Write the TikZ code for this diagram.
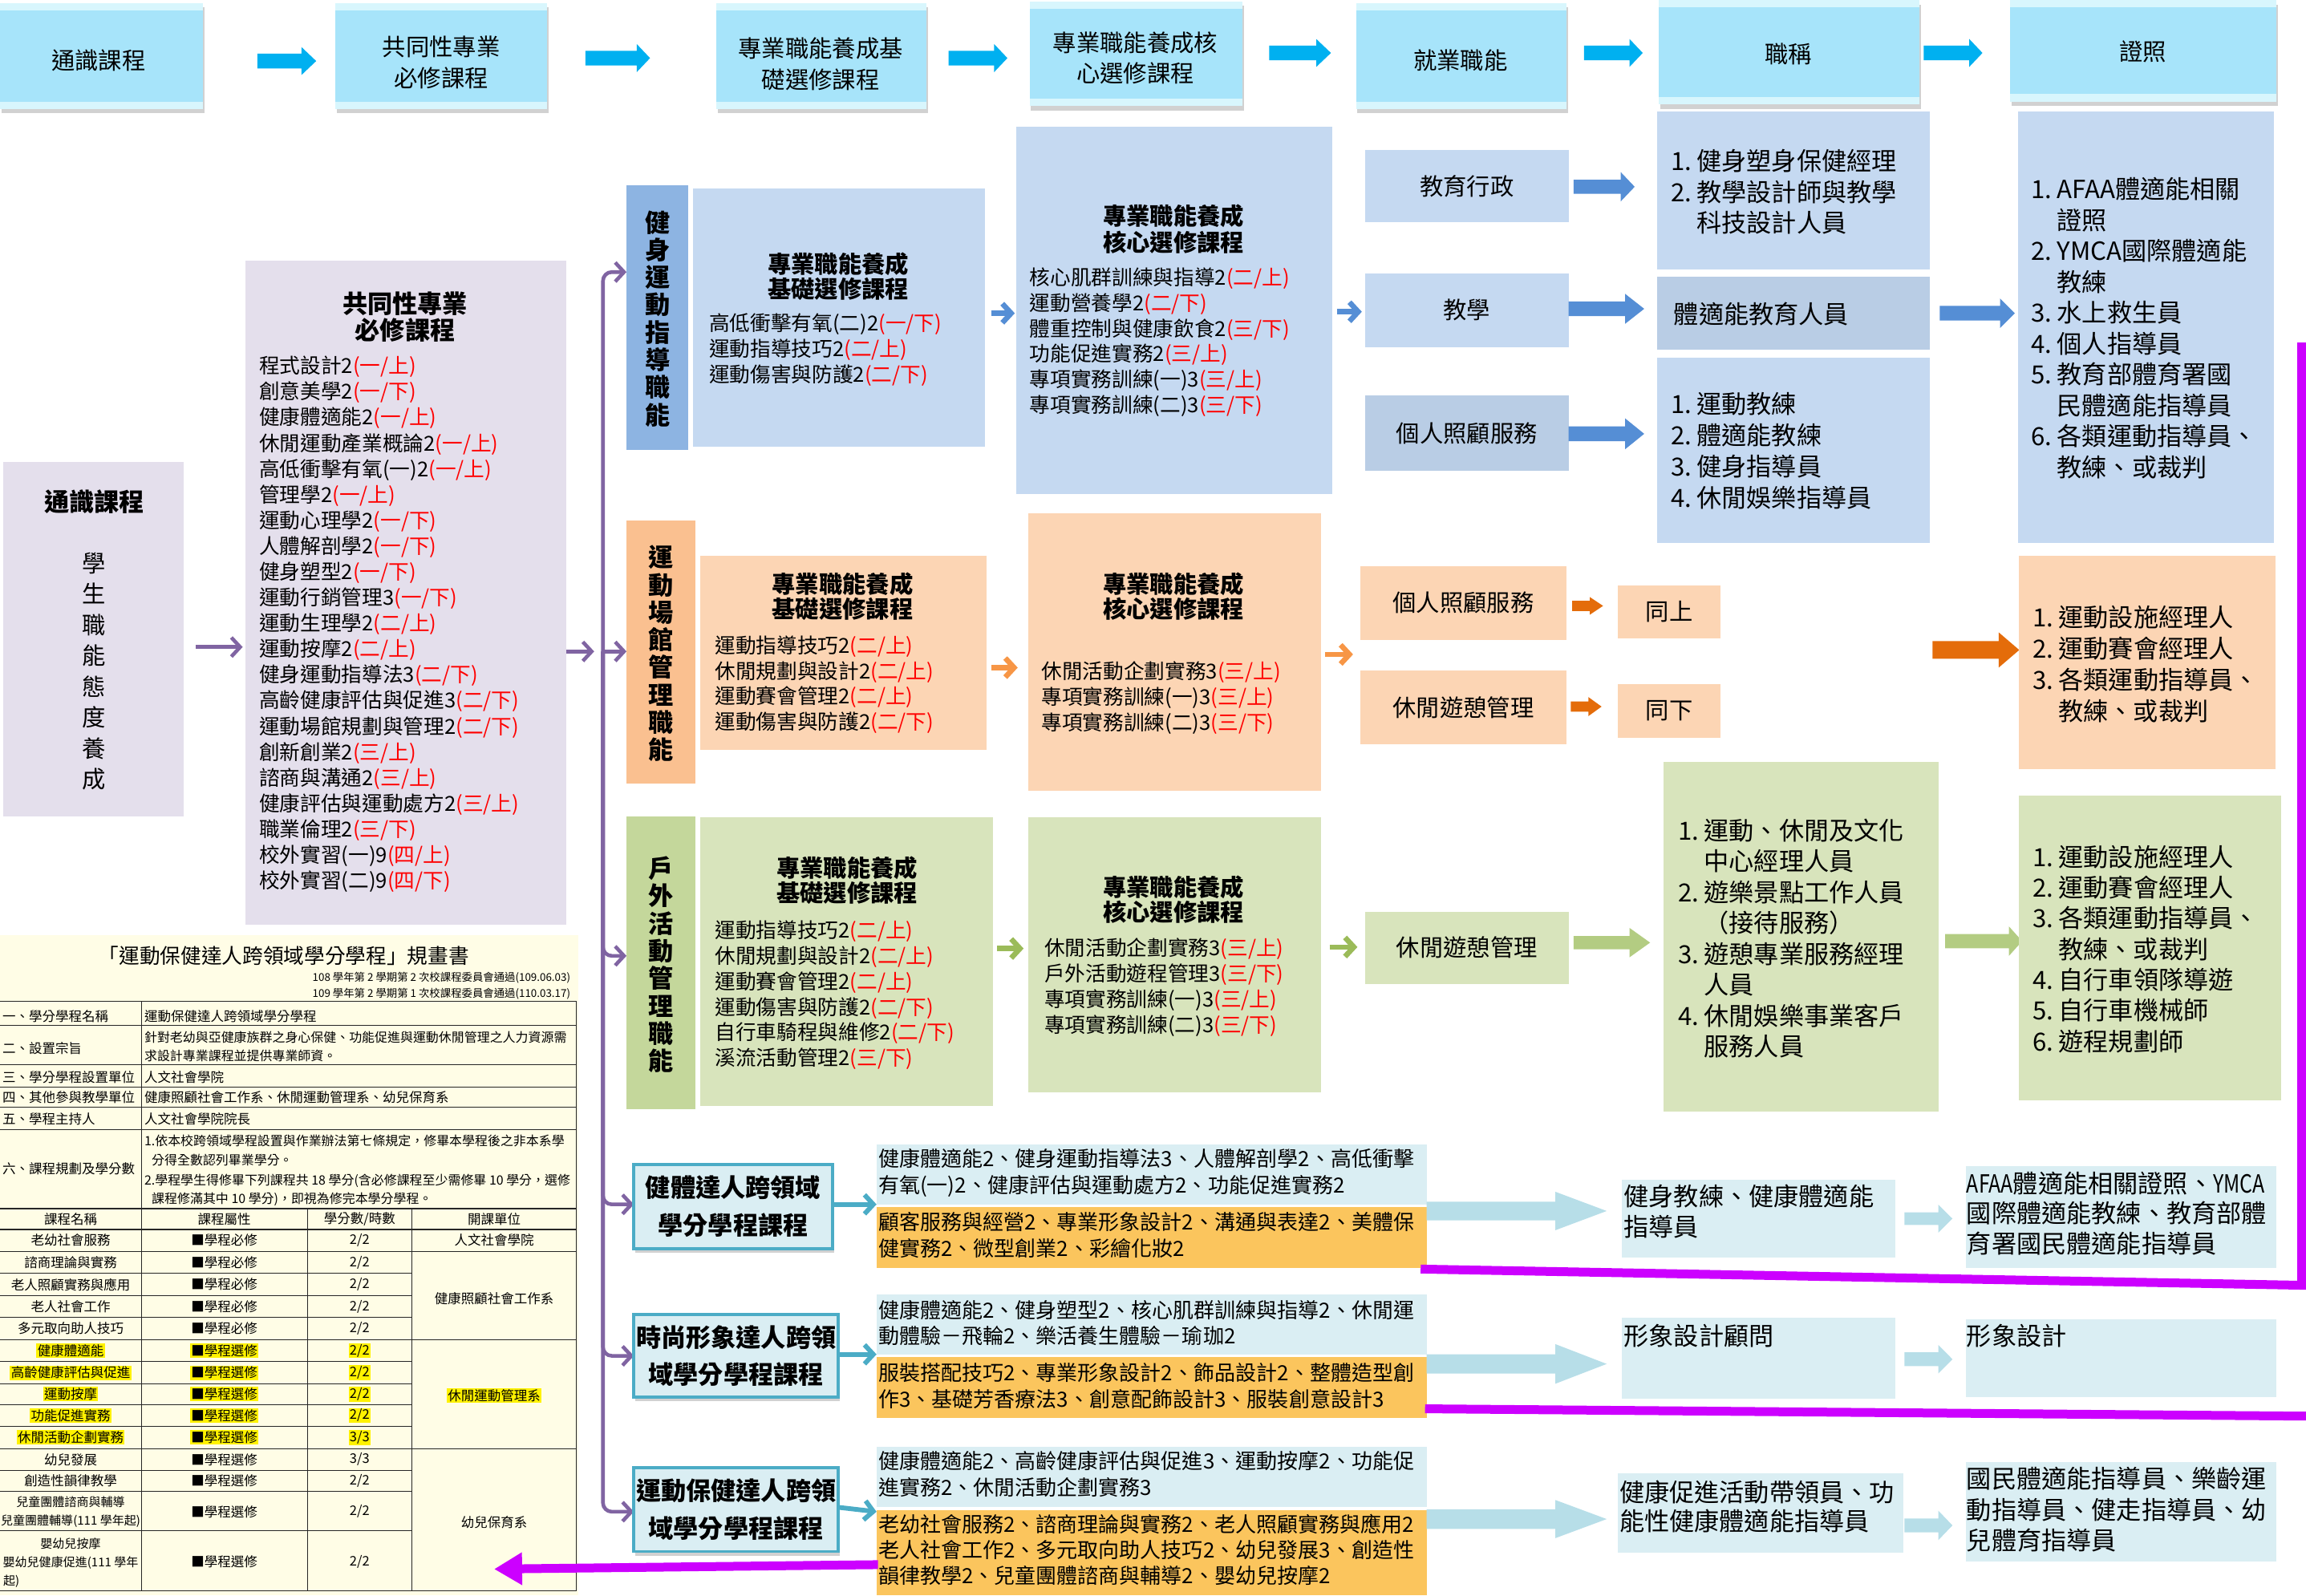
\documentclass[tikz,border=0pt]{standalone}
\usepackage{fontspec}
\usepackage{graphicx}
\setmainfont{Noto Sans CJK TC}
\usetikzlibrary{arrows.meta,shadows}
\definecolor{hdr}{HTML}{A7E4FA}
\definecolor{hdrband}{HTML}{D8F6FD}
\definecolor{lav}{HTML}{E4DFEC}
\definecolor{bdark}{HTML}{8DB4E2}
\definecolor{blight}{HTML}{C5D9F1}
\definecolor{bmid}{HTML}{B9CDE5}
\definecolor{odark}{HTML}{FAC090}
\definecolor{olight}{HTML}{FCD5B4}
\definecolor{gdark}{HTML}{C4D79B}
\definecolor{glight}{HTML}{D8E4BC}
\definecolor{aqua}{HTML}{DAEEF3}
\definecolor{gold}{HTML}{FBC55D}
\definecolor{cyanline}{HTML}{4BACC6}
\definecolor{paleblue}{HTML}{B7DEE8}
\definecolor{skyarr}{HTML}{00B0F0}
\definecolor{bluearr}{HTML}{558ED5}
\definecolor{orarr}{HTML}{E46C0A}
\definecolor{orsmall}{HTML}{F79646}
\definecolor{grarr}{HTML}{B3CC82}
\definecolor{grsmall}{HTML}{9BBB59}
\definecolor{purp}{HTML}{8064A2}
\definecolor{mag}{HTML}{CC00FF}
\definecolor{cream}{HTML}{FFFDE6}
\definecolor{cred}{HTML}{FF0000}
\newcommand\red[1]{\textcolor{cred}{#1}}
\newcommand\nar[1]{\scalebox{0.8}[1]{#1}}
\newcommand\ind{\hspace*{1.03em}}
\newcommand\nm[1]{#1.\hspace{0.2em}}
% box: name, x1, y1, x2, y2, style
\newcommand\bx[6]{\node[inner sep=0pt,outer sep=0pt,anchor=north west,minimum width={((#4)-(#2))*1pt},minimum height={((#5)-(#3))*1pt},#6] (#1) at (#2,#3) {};}
% text lines: x, y of first line centre, step, font size, options, list
\newcommand\tl[6]{\foreach \l [count=\i from 0] in {#6}{\node[anchor=base west,inner sep=0pt,font=\fontsize{#4}{#4}\selectfont,#5] at ({#1},{#2+\i*#3+0.36*#4}) {\l};}}
% block arrow: x tail, x tip, x head start, y centre, body half, head half, colour
\newcommand\barr[7]{\fill[#7] ({#1},{#4-#5}) -- ({#3},{#4-#5}) -- ({#3},{#4-#6}) -- ({#2},{#4}) -- ({#3},{#4+#6}) -- ({#3},{#4+#5}) -- ({#1},{#4+#5}) -- cycle;}
\begin{document}
\begin{tikzpicture}[x=1pt,y=-1pt,
  hbox/.style={fill=hdr,drop shadow={shadow xshift=1pt,shadow yshift=-3pt,opacity=.3,fill=black!60}},
  ctr/.style={inner sep=0pt,align=center},
  ht/.style={ctr,font=\fontsize{16}{21}\selectfont},
  tit/.style={ctr,font=\fontsize{16}{17}\selectfont\bfseries},
  vt/.style={ctr,font=\fontsize{17}{18.7}\selectfont\bfseries},
  jt/.style={ctr,font=\fontsize{16}{20}\selectfont},
  pt/.style={ctr,font=\fontsize{17}{25.5}\selectfont\bfseries},
  pa/.style={draw=purp,line width=2.5pt,-{Straight Barb[length=6pt,width=13pt]}},
  pab/.style={pa,rounded corners=6pt},
  chev/.style={draw=#1,line width=3.6pt,-{Straight Barb[length=6pt,width=13pt]}},
  cya/.style={draw=cyanline,line width=3.2pt,-{Straight Barb[length=6pt,width=13pt]}},
  magl/.style={draw=mag,line width=6pt},
  pbox/.style={fill=aqua,draw=cyanline,line width=2pt,drop shadow={shadow xshift=1pt,shadow yshift=-3pt,opacity=.3,fill=black!60}},
  tt/.style={inner sep=0pt,font=\fontsize{9}{10}\selectfont},
  ts/.style={inner sep=0pt,font=\fontsize{8.7}{10}\selectfont},
  tn/.style={inner sep=0pt,font=\fontsize{8.2}{10}\selectfont},
  hl/.style={fill=yellow,inner sep=0.7pt},
  tb/.style={draw=black!85,line width=0.8pt},
  tbt/.style={draw=black!85,line width=0.5pt},
]
\useasboundingbox (0,0) rectangle (1568,1085);

% ---------------- header row ----------------
\bx{h1}{0}{2}{138}{74}{hbox}
\bx{h2}{228}{2}{372}{74}{hbox}
\bx{h3}{487}{2}{630}{74}{hbox}
\bx{h4}{700}{1}{845}{72}{hbox}
\bx{h5}{922}{2}{1065}{74}{hbox}
\bx{h6}{1128}{0}{1305}{71}{hbox}
\bx{h7}{1367}{0}{1548}{69}{hbox}
\foreach \h in {h1,h2,h3,h4,h5,h6,h7}{
  \fill[hdrband] (\h.north west) rectangle ([yshift=-5pt]\h.north east);
  \fill[hdrband] ([yshift=5pt]\h.south west) rectangle (\h.south east);}
\node[ht] (ht1) at (67,41) {通識課程};
\node[ht] (ht2) at (300,42.5) {共同性專業\\必修課程};
\node[ht] (ht3) at (558,43.5) {專業職能養成基\\礎選修課程};
\node[ht] (ht4) at (772,39.5) {專業職能養成核\\心選修課程};
\node[ht] (ht5) at (993,41) {就業職能};
\node[ht] (ht6) at (1216,37) {職稱};
\node[ht] (ht7) at (1457,35) {證照};
\barr{175}{215}{205}{41.5}{5}{9.5}{skyarr}
\barr{398}{442}{433}{39.5}{5}{9.5}{skyarr}
\barr{645}{685}{676}{39.5}{5}{9.5}{skyarr}
\barr{863}{905}{895}{36}{5}{9.5}{skyarr}
\barr{1077}{1117}{1108}{36}{5}{9.5}{skyarr}
\barr{1308}{1348}{1339}{36}{5}{9.5}{skyarr}

% ---------------- left column ----------------
\bx{gen}{2}{314}{125}{555}{fill=lav}
\node[ctr,font=\fontsize{17}{20}\selectfont\bfseries] (gent) at (64,341) {通識課程};
\node[ctr,font=\fontsize{16}{21}\selectfont] (genv) at (64,456.5) {學\\生\\職\\能\\態\\度\\養\\成};
\bx{com}{167}{177}{385}{629}{fill=lav}
\node[tit,font=\fontsize{17}{17.5}\selectfont\bfseries] (comt) at (275.5,215.5) {共同性專業\\必修課程};
\tl{176}{249}{17.5}{14}{}{程式設計2\red{(一/上)},創意美學2\red{(一/下)},健康體適能2\red{(一/上)},休閒運動產業概論2\red{(一/上)},高低衝擊有氧(一)2\red{(一/上)},管理學2\red{(一/上)},運動心理學2\red{(一/下)},人體解剖學2\red{(一/下)},健身塑型2\red{(一/下)},運動行銷管理3\red{(一/下)},運動生理學2\red{(二/上)},運動按摩2\red{(二/上)},健身運動指導法3\red{(二/下)},高齡健康評估與促進3\red{(二/下)},運動場館規劃與管理2\red{(二/下)},創新創業2\red{(三/上)},諮商與溝通2\red{(三/上)},健康評估與運動處方2\red{(三/上)},職業倫理2\red{(三/下)},校外實習(一)9\red{(四/上)},校外實習(二)9\red{(四/下)}}

\coordinate (ga) at (133,440);
\coordinate (gb) at (165,440);
\draw[pa] (ga) -- (gb);
\coordinate (bk) at (410,443);
\draw[pa] (com.east |- bk) -- (404,443);
\coordinate (e1) at (426,185);
\coordinate (e3) at (426,650);
\coordinate (e4) at (431,819);
\coordinate (e5) at (431,922);
\coordinate (e6) at (431,1028);

% ---------------- track 1 ----------------
\bx{t1v}{426}{126}{468}{306}{fill=bdark}
\node[vt] (t1vt) at (447,216.7) {健\\身\\運\\動\\指\\導\\職\\能};
\bx{t1b}{471}{128}{670}{304}{fill=blight}
\node[tit] (t1bt) at (570,188) {專業職能養成\\基礎選修課程};
\tl{482}{220}{17.5}{14}{}{高低衝擊有氧(二)2\red{(一/下)},運動指導技巧2\red{(二/上)},運動傷害與防護2\red{(二/下)}}
\bx{t1c}{691}{86}{906}{336}{fill=blight}
\node[tit,font=\fontsize{16}{18}\selectfont\bfseries] (t1ct) at (798,156) {專業職能養成\\核心選修課程};
\tl{700}{189}{17.3}{14}{}{核心肌群訓練與指導2\red{(二/上)},運動營養學2\red{(二/下)},體重控制與健康飲食2\red{(三/下)},功能促進實務2\red{(三/上)},專項實務訓練(一)3\red{(三/上)},專項實務訓練(二)3\red{(三/下)}}
\draw[chev=bluearr] (674,213) -- (690,213);
\draw[chev=bluearr] (909,212) -- (926,212);
\bx{j1a}{928}{102}{1067}{151}{fill=blight}
\node[jt] at (j1a) {教育行政};
\bx{j1b}{928}{186}{1067}{236}{fill=blight}
\node[jt] at (j1b) {教學};
\bx{j1c}{928}{269}{1067}{320}{fill=bmid}
\node[jt] at (j1c) {個人照顧服務};
\barr{1070}{1111.5}{1102}{127}{4.8}{10}{bluearr}
\barr{1066.5}{1118}{1105}{210}{5}{10.2}{bluearr}
\barr{1066.5}{1118}{1105}{295}{5}{10.5}{bluearr}
\bx{n1a}{1127}{76}{1312}{183}{fill=blight}
\tl{1136}{110}{21}{17}{}{\nm{1}健身塑身保健經理,\nm{2}教學設計師與教學,\ind 科技設計人員}
\bx{n1b}{1127}{188}{1312}{238}{fill=bmid}
\tl{1138}{214}{21}{17}{}{體適能教育人員}
\bx{n1c}{1127}{243}{1312}{369}{fill=blight}
\tl{1136}{275}{21.3}{17}{}{\nm{1}運動教練,\nm{2}體適能教練,\nm{3}健身指導員,\nm{4}休閒娛樂指導員}
\barr{1319}{1370}{1360}{213}{5}{10}{bluearr}
\bx{c1}{1372}{76}{1546}{369}{fill=blight}
\tl{1381}{129}{21}{17}{}{\nm{1}AFAA體適能相關,\ind 證照,\nm{2}YMCA國際體適能,\ind 教練,\nm{3}水上救生員,\nm{4}個人指導員,\nm{5}教育部體育署國,\ind 民體適能指導員,\nm{6}各類運動指導員、,\ind 教練、或裁判}

% ---------------- track 2 ----------------
\bx{t2v}{426}{354}{473}{533}{fill=odark}
\node[vt] (t2vt) at (449.5,444.5) {運\\動\\場\\館\\管\\理\\職\\能};
\bx{t2b}{476}{378}{671}{510}{fill=olight}
\node[tit] (t2bt) at (573,405.5) {專業職能養成\\基礎選修課程};
\tl{486}{439}{17.4}{14}{}{運動指導技巧2\red{(二/上)},休閒規劃與設計2\red{(二/上)},運動賽會管理2\red{(二/上)},運動傷害與防護2\red{(二/下)}}
\bx{t2c}{699}{349}{898}{538}{fill=olight}
\node[tit] (t2ct) at (798,405.5) {專業職能養成\\核心選修課程};
\tl{708}{456.5}{17.5}{14}{}{休閒活動企劃實務3\red{(三/上)},專項實務訓練(一)3\red{(三/上)},專項實務訓練(二)3\red{(三/下)}}
\draw[chev=orsmall] (674,454) -- (692,454);
\draw[chev=orsmall] (901,445) -- (920,445);
\bx{j2a}{925}{385}{1065}{435}{fill=olight}
\node[jt] at (j2a) {個人照顧服務};
\bx{j2b}{925}{456}{1065}{506}{fill=olight}
\node[jt] at (j2b) {休閒遊憩管理};
\barr{1069}{1090}{1081}{412}{3.5}{6}{orarr}
\barr{1068}{1089}{1080}{480.5}{3.5}{6.5}{orarr}
\bx{n2a}{1100}{398}{1170}{434}{fill=olight}
\node[jt] at (n2a) {同上};
\bx{n2b}{1100}{465}{1170}{502}{fill=olight}
\node[jt] at (n2b) {同下};
\barr{1314}{1373}{1359}{442}{6}{12}{orarr}
\bx{c2}{1373}{378}{1547}{523}{fill=olight}
\tl{1382}{420}{21.3}{17}{}{\nm{1}運動設施經理人,\nm{2}運動賽會經理人,\nm{3}各類運動指導員、,\ind 教練、或裁判}

% ---------------- track 3 ----------------
\bx{t3v}{426}{555}{473}{754}{fill=gdark}
\node[vt] (t3vt) at (449.5,656) {戶\\外\\活\\動\\管\\理\\職\\能};
\bx{t3b}{476}{556}{675}{752}{fill=glight}
\node[tit] (t3bt) at (576,598.5) {專業職能養成\\基礎選修課程};
\tl{486}{633}{17.3}{14}{}{運動指導技巧2\red{(二/上)},休閒規劃與設計2\red{(二/上)},運動賽會管理2\red{(二/上)},運動傷害與防護2\red{(二/下)},自行車騎程與維修2\red{(二/下)},溪流活動管理2\red{(三/下)}}
\bx{t3c}{699}{556}{898}{743}{fill=glight}
\node[tit] (t3ct) at (798,611.5) {專業職能養成\\核心選修課程};
\tl{710}{645}{17.4}{14}{}{休閒活動企劃實務3\red{(三/上)},戶外活動遊程管理3\red{(三/下)},專項實務訓練(一)3\red{(三/上)},專項實務訓練(二)3\red{(三/下)}}
\draw[chev=grsmall] (678,645) -- (696,645);
\draw[chev=grsmall] (904,644) -- (923,644);
\bx{j3}{928}{620}{1067}{669}{fill=glight}
\node[jt] at (j3) {休閒遊憩管理};
\barr{1070}{1122}{1108}{641}{4.5}{10}{grarr}
\bx{n3}{1131}{518}{1318}{756}{fill=glight}
\tl{1141}{565}{21}{17}{}{\nm{1}運動、休閒及文化,\ind 中心經理人員,\nm{2}遊樂景點工作人員,\ind （接待服務）,\nm{3}遊憩專業服務經理,\ind 人員,\nm{4}休閒娛樂事業客戶,\ind 服務人員}
\barr{1322.6}{1375}{1366}{640}{4.8}{10}{grarr}
\bx{c3}{1373}{541}{1551}{748}{fill=glight}
\tl{1382}{583}{20.9}{17}{}{\nm{1}運動設施經理人,\nm{2}運動賽會經理人,\nm{3}各類運動指導員、,\ind 教練、或裁判,\nm{4}自行車領隊導遊,\nm{5}自行車機械師,\nm{6}遊程規劃師}

% ---------------- purple bracket ----------------
\draw[pab] (bk) |- (e1);
\draw[pa] (bk) -- (t2v.west |- bk);
\draw[pab] (bk) |- (e3);
\draw[pab] (bk) |- (e4);
\draw[pab] (bk) |- (e5);
\draw[pab] (bk) |- (e6);

% ---------------- bottom programmes ----------------
\bx{p1}{431}{792}{566}{849}{pbox}
\node[pt] at (p1) {健體達人跨領域\\學分學程課程};
\bx{p2}{431}{894}{570}{950}{pbox}
\node[pt] at (p2) {時尚形象達人跨領\\域學分學程課程};
\bx{p3}{431}{998}{570}{1055}{pbox}
\node[pt] at (p3) {運動保健達人跨領\\域學分學程課程};
\bx{q1a}{596}{778}{970}{819}{fill=aqua}
\bx{q1b}{596}{821}{970}{862}{fill=gold}
\bx{q2a}{596}{880}{970}{921}{fill=aqua}
\bx{q2b}{596}{923}{970}{964}{fill=gold}
\bx{q3a}{596}{984}{970}{1025}{fill=aqua}
\bx{q3b}{596}{1027}{970}{1085}{fill=gold}
\draw[cya] (p1.east |- q1a.south) -- (q1a.south west);
\draw[cya] (p2.east |- q2a.south) -- (q2a.south west);
\draw[cya] (p3.east |- q3a.south) -- ([yshift=-3pt]q3a.south west);
\tl{597}{788}{18}{14.2}{}{健康體適能2、健身運動指導法3、人體解剖學2、高低衝擊,有氧(一)2、健康評估與運動處方2、功能促進實務2}
\tl{597}{831}{18}{14.2}{}{顧客服務與經營2、專業形象設計2、溝通與表達2、美體保,健實務2、微型創業2、彩繪化妝2}
\tl{597}{891}{17.5}{14.2}{}{健康體適能2、健身塑型2、核心肌群訓練與指導2、休閒運,動體驗－飛輪2、樂活養生體驗－瑜珈2}
\tl{597}{934}{17.5}{14.2}{}{服裝搭配技巧2、專業形象設計2、飾品設計2、整體造型創,作3、基礎芳香療法3、創意配飾設計3、服裝創意設計3}
\tl{597}{994}{18}{14.2}{}{健康體適能2、高齡健康評估與促進3、運動按摩2、功能促,進實務2、休閒活動企劃實務3}
\tl{597}{1037}{17.5}{14.2}{}{老幼社會服務2、諮商理論與實務2、老人照顧實務與應用2,老人社會工作2、多元取向助人技巧2、幼兒發展3、創造性,韻律教學2、兒童團體諮商與輔導2、嬰幼兒按摩2}
\barr{970}{1092.5}{1057.5}{823.5}{6.3}{13.1}{paleblue}
\barr{970}{1092.5}{1057.5}{927.5}{6.5}{13.5}{paleblue}
\barr{970}{1092.5}{1057.5}{1033}{6.7}{13}{paleblue}
\bx{r1}{1103}{802}{1289}{855}{fill=aqua}
\tl{1104}{814}{20.5}{17}{}{健身教練、健康體適能,指導員}
\bx{s1}{1337}{793}{1548}{862}{fill=aqua}
\tl{1337}{805}{20.5}{17}{}{\nar{AFAA}體適能相關證照、\nar{YMCA},國際體適能教練、教育部體,育署國民體適能指導員}
\bx{r2}{1103}{896}{1289}{951}{fill=aqua}
\tl{1104}{909}{20}{17}{}{形象設計顧問}
\bx{s2}{1337}{897}{1548}{950}{fill=aqua}
\tl{1337}{909}{20}{17}{}{形象設計}
\bx{r3}{1100}{1002}{1294}{1056}{fill=aqua}
\tl{1101}{1015}{20}{17}{}{健康促進活動帶領員、功,能性健康體適能指導員}
\bx{s3}{1337}{994}{1548}{1062}{fill=aqua}
\tl{1337}{1006}{21}{17}{}{國民體適能指導員、樂齡運,動指導員、健走指導員、幼,兒體育指導員}
\barr{1295}{1327.6}{1318}{828.7}{4.3}{9.5}{paleblue}
\barr{1295}{1327.6}{1318}{924.3}{4.7}{9.7}{paleblue}
\barr{1295}{1327.6}{1318}{1037.3}{4.7}{10}{paleblue}

% ---------------- table ----------------
\begin{scope}
\clip (0,636) rectangle (394,1085);
\fill[cream] (0,636) rectangle (393,1085);
\node[ctr,font=\fontsize{14}{14}\selectfont] (tabt) at (193,650) {「運動保健達人跨領域學分學程」規畫書};
\node[inner sep=0pt,anchor=east,font=\fontsize{7.3}{8}\selectfont] at (388,665) {108 學年第 2 學期第 2 次校課程委員會通過(109.06.03)};
\node[inner sep=0pt,anchor=east,font=\fontsize{7.3}{8}\selectfont] at (388,676) {109 學年第 2 學期第 1 次校課程委員會通過(110.03.17)};
\draw[tb] (0,681) -- (392,681);
\foreach \yy in {697,724,739,753,768} \draw[tbt] (0,\yy) -- (392,\yy);
\draw[tb] (0,822) -- (392,822);
\draw[tb] (0,836) -- (392,836);
\foreach \yy in {866,881,896,926,941,955,970,1000,1014,1041} \draw[tbt] (0,\yy) -- (280,\yy);
\foreach \yy in {851,911,985,1082} \draw[tbt] (0,\yy) -- (392,\yy);
\draw[tbt] (96,681) -- (96,1082);
\draw[tbt] (209,822) -- (209,1082);
\draw[tbt] (280,822) -- (280,1082);
\draw[tbt] (392,681) -- (392,1082);
\foreach \yy/\tx in {691/一、學分學程名稱,712.7/二、設置宗旨,732.6/三、學分學程設置單位,746/四、其他參與教學單位,760.8/五、學程主持人,794.5/六、課程規劃及學分數}
  \node[tt,anchor=west] at (1.5,\yy) {\tx};
\node[tt,anchor=west] at (98,691) {運動保健達人跨領域學分學程};
\node[ts,anchor=west] at (98,705.4) {針對老幼與亞健康族群之身心保健、功能促進與運動休閒管理之人力資源需};
\node[ts,anchor=west] at (98,718.1) {求設計專業課程並提供專業師資。};
\node[tt,anchor=west] at (98,732.6) {人文社會學院};
\node[tt,anchor=west] at (98,746) {健康照顧社會工作系、休閒運動管理系、幼兒保育系};
\node[tt,anchor=west] at (98,760.8) {人文社會學院院長};
\node[ts,anchor=west] at (98,776) {1.依本校跨領域學程設置與作業辦法第七條規定，修畢本學程後之非本系學};
\node[ts,anchor=west] at (103,789) {分得全數認列畢業學分。};
\node[ts,anchor=west] at (98,803) {2.學程學生得修畢下列課程共 18 學分(含必修課程至少需修畢 10 學分，選修};
\node[ts,anchor=west] at (103,815.5) {課程修滿其中 10 學分)，即視為修完本學分學程。};
\node[tt] at (48,829) {課程名稱};
\node[tt] at (152.5,829) {課程屬性};
\node[tt] at (244.5,829) {學分數/時數};
\node[tt] at (336,829) {開課單位};
\foreach \yy/\na/\at/\cr in {843.5/老幼社會服務/必修/2\slash 2,858.5/諮商理論與實務/必修/2\slash 2,873.5/老人照顧實務與應用/必修/2\slash 2,888.5/老人社會工作/必修/2\slash 2,903.5/多元取向助人技巧/必修/2\slash 2,992.5/幼兒發展/選修/3\slash 3,1007/創造性韻律教學/選修/2\slash 2}{
  \node[tt] at (48,\yy) {\na};
  \node[tt] at (152.5,\yy) {■學程\at};
  \node[tt] at (244.5,\yy) {\cr};}
\foreach \yy/\na/\cr in {918.5/健康體適能/2\slash 2,933.5/高齡健康評估與促進/2\slash 2,948/運動按摩/2\slash 2,962.5/功能促進實務/2\slash 2,977.5/休閒活動企劃實務/3\slash 3}{
  \node[tt,hl] at (48,\yy) {\na};
  \node[tt,hl] at (152.5,\yy) {■學程選修};
  \node[tt,hl] at (244.5,\yy) {\cr};}
\node[tn] at (48,1021.5) {兒童團體諮商與輔導};
\node[tn] at (48,1034.5) {兒童團體輔導(111 學年起)};
\node[tt] at (152.5,1028) {■學程選修};
\node[tt] at (244.5,1028) {2/2};
\node[tn] at (48,1049.5) {嬰幼兒按摩};
\node[tn] at (48,1062.5) {嬰幼兒健康促進(111 學年};
\node[tn,anchor=west] at (2,1075.5) {起)};
\node[tt] at (152.5,1062) {■學程選修};
\node[tt] at (244.5,1062) {2/2};
\node[tt] at (336,843.5) {人文社會學院};
\node[tt] at (336,883) {健康照顧社會工作系};
\node[tt,hl] at (336,949) {休閒運動管理系};
\node[tt] at (336,1035) {幼兒保育系};
\end{scope}

% ---------------- magenta lines ----------------
\coordinate (m1) at (966,863);
\coordinate (m2) at (1565,874);
\coordinate (m3) at (1565,233);
\draw[magl,line join=miter] (m1) -- (m2) -- (m3);
\coordinate (m4) at (969,958);
\coordinate (m5) at (1568,963);
\draw[magl] (m4) -- (m5);
\coordinate (m6) at (597,1064);
\coordinate (m7) at (336,1067);
\draw[magl,-{Triangle[length=19pt,width=21pt]}] (m6) -- (m7);
\end{tikzpicture}
\end{document}
